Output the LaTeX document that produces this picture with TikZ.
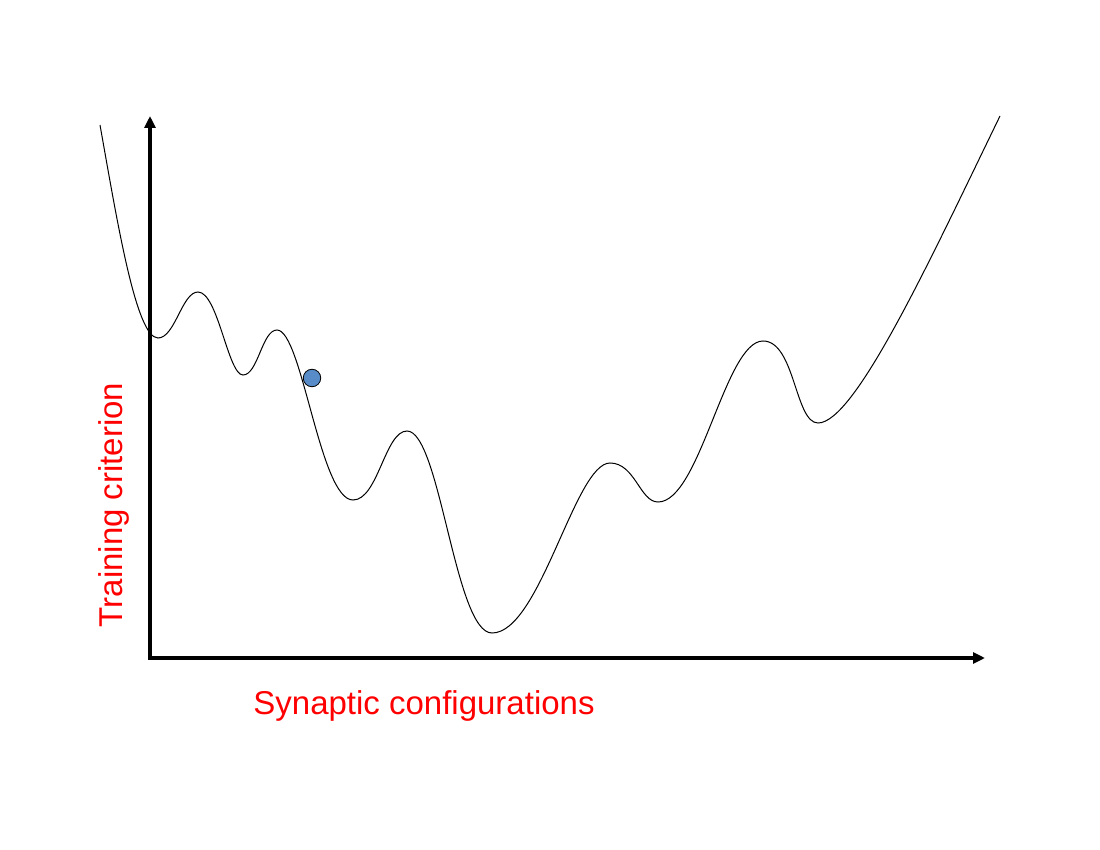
\documentclass[tikz,border=0pt]{standalone}
\usepackage{fontspec}
\setmainfont{Liberation Sans}
\usetikzlibrary{arrows.meta}
\definecolor{ballblue}{RGB}{87,140,200}
\definecolor{labelred}{RGB}{255,0,0}
\tikzset{
  axis/.style={line width=3.8pt,-{Triangle[length=12pt,width=11pt]}},
  landscape/.style={line width=1pt,black},
  axislabel/.style={text=labelred,font=\fontsize{33}{40}\selectfont,inner sep=0pt},
}
\begin{document}
\begin{tikzpicture}[x=1pt,y=-1pt]
\useasboundingbox (0,0) rectangle (1100,850);
\coordinate (o) at (150,658);
\coordinate (ytop) at (150,116);
\coordinate (xend) at (985,658);
\draw[axis] ([yshift=1.9pt]o) -- (ytop);
\draw[axis] ([xshift=-1.9pt]o) -- (xend);
\draw[landscape] (100,125)
  .. controls (117,220) and (136,338) .. (158,338)
  .. controls (175,338) and (182,292) .. (198,292)
  .. controls (218,292) and (228,375) .. (243,375)
  .. controls (258,375) and (262,330) .. (277,330)
  .. controls (302,330) and (320,500) .. (353,500)
  .. controls (378,500) and (385,431) .. (407,431)
  .. controls (440,431) and (455,633) .. (492,633)
  .. controls (540,633) and (575,463) .. (610,463)
  .. controls (635,463) and (640,502) .. (658,502)
  .. controls (700,502) and (725,341) .. (763,341)
  .. controls (795,341) and (795,423) .. (818,423)
  .. controls (855,423) and (930,260) .. (1000,116);
\node[circle,draw=black,fill=ballblue,line width=0.8pt,minimum size=17.5pt,inner sep=0pt] (ball) at (312,378) {};
\node[axislabel,anchor=base] (xlab) at (424,714) {Synaptic configurations};
\node[axislabel,anchor=base,rotate=90] (ylab) at (122,505) {Training criterion};
\end{tikzpicture}
\end{document}
